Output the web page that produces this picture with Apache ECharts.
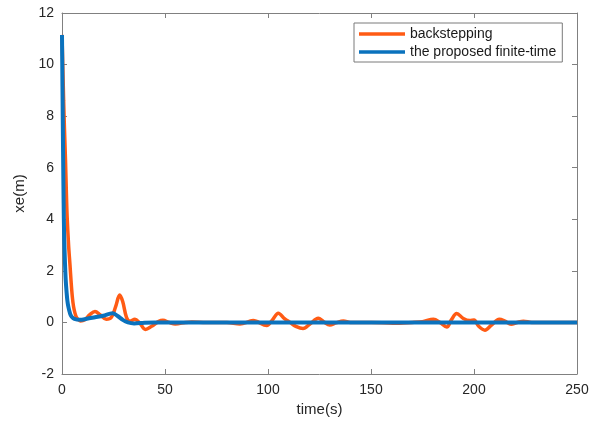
<!DOCTYPE html>
<html>
<head>
<meta charset="utf-8">
<script src="https://cdn.jsdelivr.net/npm/echarts@6/dist/echarts.min.js"></script>
<style>
  html, body { margin: 0; padding: 0; background: #fff; }
  #chart { width: 603px; height: 422px; }
</style>
</head>
<body>
<div id="chart"></div>
<script>
// Position error xe (m) versus time (s) for the two controllers
const seriesNames = ['backstepping', 'the proposed finite-time'];

const backsteppingT = [0, 0.4, 0.8, 1.2, 1.7, 2.1, 2.5, 3.2, 3.9, 4.4, 5, 5.6, 6.3, 7, 7.8, 9, 11, 13.5, 16, 18.5, 21.5, 24, 26, 28, 29.5, 31.3, 33, 35.4, 37.5, 40.5, 43.5, 47, 49, 52, 55, 60, 63, 70, 80, 86.4, 92.8, 99.4, 102, 105, 108, 110.7, 113.5, 117, 120.5, 124.4, 127, 130, 133, 136.6, 140, 150, 160.7, 170, 175, 180.3, 183.5, 186.8, 189, 191.6, 194.8, 198, 200, 202.3, 205.3, 208.5, 212.3, 215, 218, 221, 224, 228, 235, 250];
const backsteppingXe = [11.15, 9.9, 8.6, 7.5, 6.3, 5.1, 4.1, 3.0, 2.2, 1.6, 1.0, 0.62, 0.36, 0.2, 0.12, 0.06, 0.1, 0.3, 0.42, 0.3, 0.12, 0.2, 0.6, 1.06, 0.8, 0.2, 0.05, 0.12, 0.0, -0.27, -0.15, 0.04, 0.08, 0.0, -0.06, 0.0, 0.02, 0.0, 0.0, -0.06, 0.07, -0.12, 0.08, 0.36, 0.15, 0.0, -0.15, -0.24, -0.05, 0.16, 0.03, -0.1, -0.02, 0.06, 0.0, 0.0, -0.03, 0.0, 0.03, 0.12, 0.0, -0.18, 0.1, 0.35, 0.15, 0.07, 0.09, -0.15, -0.3, -0.1, 0.12, 0.05, -0.07, 0.0, 0.05, 0.0, 0.0, 0.0];

const finiteTimeT = [0, 0.15, 0.3, 0.45, 0.6, 0.8, 1.0, 1.25, 1.5, 1.8, 2.2, 2.6, 3.1, 4, 4.7, 6, 8.7, 12, 16, 20, 24.5, 27, 29.5, 32, 35, 40, 45, 250];
const finiteTimeXe = [11.15, 9.8, 8.5, 7.2, 6.0, 4.6, 3.5, 2.8, 2.2, 1.65, 1.2, 0.85, 0.6, 0.32, 0.22, 0.14, 0.1, 0.14, 0.2, 0.26, 0.36, 0.25, 0.1, 0.0, -0.04, -0.01, 0.0, 0.0];

const xTicks = { min: 0, max: 250, interval: 50 };
const yTicks = { min: -2, max: 12, interval: 2 };

const pairs = (t, v) => t.map((x, i) => [x, v[i]]);

const axisColor = '#808080';
const labelColor = '#262626';
const font = '"Liberation Sans", Arial, sans-serif';

function frameAxis(base, extra) {
  return Object.assign({
    type: 'value',
    min: base.min, max: base.max, interval: base.interval,
    axisLine: { show: true, onZero: false, lineStyle: { color: axisColor, width: 1 } },
    axisTick: { show: true, inside: true, length: 5, lineStyle: { color: axisColor } },
    splitLine: { show: false }
  }, extra);
}

const chart = echarts.init(document.getElementById('chart'), null, { renderer: 'canvas' });
chart.setOption({
  animation: false,
  backgroundColor: '#ffffff',
  grid: { left: 62, right: 26, top: 13, bottom: 48 },
  xAxis: [
    frameAxis(xTicks, {
      position: 'bottom',
      name: 'time(s)', nameLocation: 'middle', nameGap: 26,
      nameTextStyle: { color: labelColor, fontSize: 15, fontFamily: font },
      axisLabel: { color: labelColor, fontSize: 14, fontFamily: font, margin: 9 }
    }),
    frameAxis(xTicks, { position: 'top', axisLabel: { show: false } })
  ],
  yAxis: [
    frameAxis(yTicks, {
      position: 'left',
      name: 'xe(m)', nameLocation: 'middle', nameGap: 30,
      nameTextStyle: { color: labelColor, fontSize: 15, fontFamily: font },
      axisLabel: { color: labelColor, fontSize: 14, fontFamily: font, margin: 8 }
    }),
    frameAxis(yTicks, { position: 'right', axisLabel: { show: false } })
  ],
  legend: {
    orient: 'vertical',
    left: 354, top: 23,
    padding: [3, 6, 2, 5],
    itemGap: 2,
    itemWidth: 46, itemHeight: 3.5,
    itemTextGap: 4,
    icon: 'rect',
    borderColor: '#7a7a7a', borderWidth: 1,
    backgroundColor: '#ffffff',
    textStyle: { color: '#1a1a1a', fontSize: 14, fontFamily: font, lineHeight: 16 },
    data: seriesNames
  },
  series: [
    {
      name: seriesNames[0], type: 'line',
      data: pairs(backsteppingT, backsteppingXe),
      smooth: 0.35,
      showSymbol: false, symbol: 'none',
      lineStyle: { color: '#ff5b14', width: 3.5 },
      itemStyle: { color: '#ff5b14' },
      z: 2
    },
    {
      name: seriesNames[1], type: 'line',
      data: pairs(finiteTimeT, finiteTimeXe),
      smooth: 0.35,
      showSymbol: false, symbol: 'none',
      lineStyle: { color: '#0a72bd', width: 4 },
      itemStyle: { color: '#0a72bd' },
      z: 3
    }
  ]
});
</script>
</body>
</html>
